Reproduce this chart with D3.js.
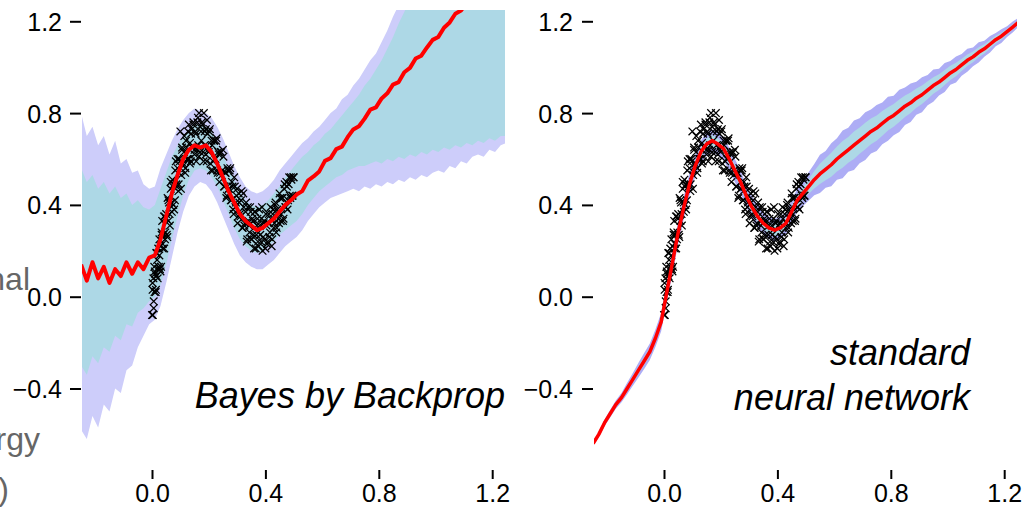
<!DOCTYPE html>
<meta charset="utf-8">
<style>
body { margin: 0; background: #fff; }
svg { display: block; font-family: "Liberation Sans", Arial, sans-serif; }
.axis path.domain { display: none; }
.axis .tick line { stroke: #000; stroke-width: 2px; }
.axis .tick text { font-size: 25px; fill: #000; }
.title { font-size: 36px; font-style: italic; fill: #000; }
.cut { font-size: 32px; fill: #666; }
.line { fill: none; stroke: #ff0000; stroke-linejoin: round; }
.obs { fill: none; stroke: #000; stroke-width: 1.25px; }
</style>
<svg width="1023" height="510"></svg>
<script src="https://d3js.org/d3.v7.min.js"></script>
<script>

// shared input grid
var xGrid = [-0.25,-0.23,-0.21,-0.19,-0.17,-0.15,-0.13,-0.11,-0.09,-0.07,-0.05,-0.03,-0.01,
  0.01,0.03,0.05,0.07,0.09,0.11,0.13,0.15,0.17,0.19,0.21,0.23,0.25,0.27,0.29,0.31,0.33,0.35,0.37,0.39,0.41,0.43,0.45,0.47,0.49,
  0.51,0.53,0.55,0.57,0.59,0.61,0.63,0.65,0.67,0.69,0.71,0.73,0.75,0.77,0.79,0.81,0.83,0.85,0.87,0.89,0.91,0.93,0.95,0.97,0.99,
  1.01,1.03,1.05,1.07,1.09,1.11,1.13,1.15,1.17,1.19,1.21,1.23,1.25];

// Bayes by Backprop: median and quantile bands
var bbbMean = [0.14,0.07,0.15,0.08,0.13,0.06,0.12,0.09,0.15,0.10,0.15,0.12,0.17,
  0.18,0.25,0.35,0.45,0.53,0.60,0.64,0.66,0.65,0.66,0.63,0.58,0.52,0.46,0.41,0.36,0.33,0.31,0.29,0.30,0.32,0.34,0.37,0.40,0.42,
  0.445,0.46,0.506,0.524,0.546,0.592,0.604,0.643,0.654,0.695,0.729,0.743,0.776,0.815,0.825,0.864,0.886,0.924,0.935,0.978,0.997,
  1.038,1.05,1.086,1.119,1.132,1.172,1.195,1.233,1.247,1.28,1.31,1.34,1.36,1.39,1.42,1.45,1.48];
var bbbOuterHi = [0.80,0.70,0.74,0.66,0.70,0.62,0.68,0.58,0.60,0.54,0.55,0.49,0.47,
  0.48,0.56,0.62,0.68,0.73,0.77,0.80,0.82,0.81,0.80,0.78,0.74,0.69,0.63,0.57,0.52,0.48,0.46,0.45,0.46,0.48,0.51,0.55,0.58,0.61,
  0.64,0.67,0.69,0.72,0.74,0.77,0.80,0.82,0.86,0.88,0.92,0.95,0.99,1.03,1.06,1.11,1.16,1.22,1.27,1.32,1.36,1.40,1.44,1.48,1.52,
  1.56,1.60,1.64,1.68,1.72,1.76,1.80,1.84,1.88,1.92,1.96,2.00,2.04];
var bbbInnerHi = [0.56,0.50,0.53,0.47,0.50,0.45,0.48,0.43,0.45,0.40,0.42,0.39,0.38,
  0.40,0.47,0.54,0.61,0.66,0.70,0.73,0.75,0.75,0.74,0.72,0.67,0.62,0.56,0.51,0.46,0.42,0.40,0.39,0.40,0.42,0.45,0.48,0.52,0.55,
  0.58,0.61,0.63,0.66,0.68,0.71,0.73,0.76,0.79,0.82,0.85,0.88,0.92,0.95,0.99,1.03,1.08,1.13,1.19,1.24,1.30,1.34,1.38,1.42,1.46,
  1.50,1.54,1.58,1.62,1.66,1.70,1.74,1.78,1.82,1.86,1.90,1.94,1.98];
var bbbInnerLo = [-0.30,-0.34,-0.26,-0.29,-0.22,-0.24,-0.17,-0.19,-0.12,-0.13,-0.07,-0.05,-0.02,
  0.00,0.05,0.14,0.25,0.35,0.44,0.51,0.55,0.56,0.55,0.52,0.48,0.42,0.36,0.30,0.25,0.22,0.20,0.19,0.20,0.22,0.24,0.27,0.29,0.31,
  0.33,0.36,0.40,0.43,0.46,0.48,0.50,0.52,0.53,0.55,0.56,0.57,0.57,0.58,0.59,0.58,0.60,0.59,0.61,0.60,0.62,0.61,0.63,0.62,0.64,
  0.63,0.65,0.64,0.66,0.65,0.67,0.66,0.68,0.67,0.69,0.68,0.70,0.70];
var bbbOuterLo = [-0.58,-0.62,-0.52,-0.57,-0.47,-0.50,-0.40,-0.42,-0.32,-0.30,-0.22,-0.17,-0.12,
  -0.10,-0.04,0.06,0.17,0.28,0.37,0.44,0.48,0.50,0.49,0.46,0.41,0.35,0.29,0.23,0.18,0.15,0.13,0.12,0.12,0.14,0.16,0.19,0.22,0.24,
  0.26,0.29,0.33,0.36,0.39,0.41,0.43,0.44,0.45,0.46,0.47,0.46,0.48,0.47,0.49,0.48,0.50,0.49,0.51,0.50,0.52,0.51,0.53,0.52,0.54,
  0.55,0.54,0.57,0.56,0.59,0.58,0.61,0.62,0.61,0.64,0.63,0.66,0.67];

// standard neural network: prediction and band half-widths
var nnMean = [-0.64,-0.60,-0.55,-0.51,-0.47,-0.44,-0.40,-0.36,-0.32,-0.28,-0.24,-0.18,-0.11,
  0.02,0.15,0.28,0.39,0.49,0.57,0.63,0.665,0.68,0.665,0.645,0.60,0.55,0.50,0.44,0.39,0.35,0.32,0.30,0.29,0.30,0.32,0.37,0.42,0.45,
  0.48,0.51,0.535,0.555,0.575,0.60,0.62,0.64,0.66,0.68,0.70,0.72,0.735,0.755,0.775,0.79,0.81,0.83,0.845,0.865,0.88,0.90,0.92,
  0.935,0.955,0.975,0.99,1.01,1.03,1.045,1.065,1.08,1.10,1.12,1.135,1.155,1.175,1.195];
var nnOuterW = [0.010,0.012,0.014,0.016,0.018,0.020,0.025,0.028,0.032,0.035,0.036,0.038,0.040,
  0.045,0.050,0.050,0.050,0.050,0.048,0.050,0.050,0.048,0.050,0.050,0.050,0.050,0.050,0.048,0.050,0.050,0.050,0.050,0.050,0.050,0.048,0.050,0.050,0.055,
  0.062,0.068,0.083,0.080,0.094,0.090,0.104,0.096,0.108,0.098,0.104,0.096,0.100,0.091,0.096,0.086,0.092,0.082,0.084,0.072,0.076,
  0.066,0.070,0.058,0.063,0.052,0.057,0.047,0.050,0.041,0.044,0.035,0.036,0.029,0.030,0.023,0.024,0.020];
var nnInnerW = [0.005,0.006,0.007,0.008,0.009,0.010,0.012,0.014,0.016,0.017,0.018,0.019,0.020,
  0.022,0.025,0.025,0.025,0.024,0.025,0.025,0.024,0.025,0.025,0.025,0.024,0.025,0.025,0.025,0.024,0.025,0.025,0.025,0.025,0.024,0.025,0.025,0.025,0.028,
  0.032,0.038,0.044,0.048,0.052,0.055,0.058,0.056,0.060,0.057,0.058,0.056,0.055,0.054,0.051,0.050,0.049,0.047,0.045,0.042,0.040,
  0.039,0.036,0.034,0.033,0.031,0.029,0.027,0.025,0.023,0.022,0.020,0.018,0.017,0.015,0.013,0.012,0.010];

// training observations [x, y]
var observations = [[0.000,-0.08],[0.002,0.03],[0.003,-0.08],[0.005,0.08],[0.006,-0.02],[0.008,0.13],[0.009,0.02],[0.011,0.10],
  [0.013,0.02],[0.015,0.19],[0.016,0.09],[0.018,0.16],[0.020,0.08],[0.022,0.21],[0.024,0.13],[0.026,0.25],[0.028,0.12],[0.030,0.22],
  [0.032,0.13],[0.034,0.27],[0.036,0.33],[0.038,0.21],[0.040,0.27],[0.043,0.21],[0.045,0.35],[0.047,0.28],[0.050,0.36],[0.052,0.27],
  [0.055,0.43],[0.058,0.33],[0.060,0.41],[0.063,0.31],[0.066,0.47],[0.069,0.41],[0.072,0.51],[0.075,0.40],[0.078,0.49],[0.081,0.42],
  [0.084,0.59],[0.087,0.48],[0.090,0.56],[0.093,0.46],[0.096,0.60],[0.100,0.72],[0.103,0.53],[0.106,0.64],[0.110,0.58],[0.113,0.63],
  [0.117,0.54],[0.120,0.68],[0.124,0.60],[0.127,0.72],[0.130,0.60],[0.134,0.67],[0.137,0.59],[0.140,0.73],[0.143,0.65],[0.146,0.76],
  [0.150,0.64],[0.153,0.72],[0.156,0.59],[0.160,0.76],[0.163,0.66],[0.166,0.80],[0.170,0.63],[0.173,0.72],[0.176,0.76],[0.180,0.63],
  [0.183,0.80],[0.186,0.66],[0.190,0.73],[0.193,0.59],[0.196,0.71],[0.200,0.63],[0.204,0.73],[0.208,0.55],[0.212,0.66],[0.216,0.59],
  [0.220,0.68],[0.224,0.60],[0.228,0.69],[0.232,0.54],[0.236,0.62],[0.240,0.54],[0.244,0.63],[0.248,0.55],[0.252,0.61],[0.256,0.48],
  [0.260,0.54],[0.264,0.44],[0.268,0.55],[0.272,0.47],[0.276,0.56],[0.280,0.42],[0.284,0.48],[0.288,0.36],[0.292,0.48],[0.296,0.41],
  [0.300,0.47],[0.304,0.35],[0.308,0.41],[0.312,0.35],[0.316,0.46],[0.320,0.30],[0.324,0.39],[0.328,0.32],[0.332,0.41],[0.336,0.25],
  [0.340,0.33],[0.344,0.28],[0.348,0.37],[0.352,0.25],[0.356,0.33],[0.360,0.21],[0.364,0.37],[0.368,0.27],[0.372,0.34],[0.376,0.22],
  [0.380,0.31],[0.384,0.24],[0.388,0.39],[0.392,0.26],[0.396,0.33],[0.400,0.21],[0.404,0.31],[0.408,0.24],[0.412,0.36],[0.416,0.28],
  [0.420,0.34],[0.424,0.25],[0.428,0.38],[0.432,0.32],[0.436,0.41],[0.440,0.30],[0.444,0.37],[0.448,0.32],[0.452,0.43],[0.456,0.36],
  [0.460,0.43],[0.464,0.34],[0.468,0.49],[0.472,0.39],[0.476,0.48],[0.480,0.42],[0.484,0.52],[0.488,0.43],[0.492,0.51],[0.496,0.44],
  [0.500,0.52],
  [0.002,0.06],[0.006,-0.05],[0.010,0.11],[0.014,0.03],[0.018,0.19],[0.022,0.12],[0.026,0.18],[0.030,0.11],[0.034,0.28],[0.038,0.23],
  [0.042,0.35],[0.046,0.25],[0.050,0.34],[0.054,0.26],[0.058,0.42],[0.062,0.36],[0.066,0.50],[0.070,0.37],[0.074,0.48],[0.078,0.38],
  [0.082,0.55],[0.086,0.49],[0.090,0.60],[0.094,0.49],[0.098,0.59],[0.102,0.47],[0.106,0.65],[0.110,0.57],[0.114,0.70],[0.118,0.56],
  [0.122,0.65],[0.126,0.60],[0.130,0.75],[0.134,0.58],[0.138,0.71],[0.142,0.65],[0.146,0.75],[0.150,0.62],[0.154,0.71],[0.158,0.64],
  [0.162,0.78],[0.166,0.61],[0.170,0.74],[0.174,0.68],[0.178,0.75],[0.182,0.59],[0.186,0.72],[0.190,0.62],[0.194,0.77],[0.198,0.64],
  [0.202,0.72],[0.206,0.58],[0.210,0.68],[0.214,0.55],[0.218,0.68],[0.222,0.60],[0.226,0.68],[0.230,0.55],[0.234,0.63],[0.238,0.50],
  [0.242,0.63],[0.246,0.53],[0.250,0.64],[0.254,0.48],[0.258,0.54],[0.262,0.43],[0.266,0.56],[0.270,0.47],[0.274,0.55],[0.278,0.42],
  [0.282,0.50],[0.286,0.38],[0.290,0.52],[0.294,0.39],[0.298,0.44],[0.302,0.32],[0.306,0.45],[0.310,0.36],[0.314,0.42],[0.318,0.30],
  [0.322,0.45],[0.326,0.31],[0.330,0.37],[0.334,0.24],[0.338,0.39],[0.342,0.31],[0.346,0.39],[0.350,0.25],[0.354,0.34],[0.358,0.27],
  [0.362,0.37],[0.366,0.21],[0.370,0.31],[0.374,0.24],[0.378,0.38],[0.382,0.27],[0.386,0.34],[0.390,0.20],[0.394,0.32],[0.398,0.25],
  [0.402,0.36],[0.406,0.23],[0.410,0.32],[0.414,0.26],[0.418,0.39],[0.422,0.22],[0.426,0.36],[0.430,0.30],[0.434,0.40],[0.438,0.28],
  [0.442,0.38],[0.446,0.34],[0.450,0.45],[0.454,0.33],[0.458,0.43],[0.462,0.33],[0.466,0.47],[0.470,0.39],[0.474,0.50],[0.478,0.38],
  [0.482,0.49],[0.486,0.44],[0.490,0.52],[0.494,0.44],[0.498,0.52]];

var yTicks = [-0.4, 0.0, 0.4, 0.8, 1.2],
    xTicks = [0.0, 0.4, 0.8, 1.2];

var svg = d3.select("svg");
var fmt = d3.format(".1f");

var y = d3.scaleLinear().domain([0, 1.2]).range([296.7, 21.3]);

function drawPanel(p) {
  var x = d3.scaleLinear().domain([0, 1.2]).range([p.x0, p.x0 + 340.2]);

  svg.append("clipPath").attr("id", p.id)
    .append("rect")
      .attr("x", x(-0.247)).attr("y", 10)
      .attr("width", x(1.245) - x(-0.247)).attr("height", 500);

  var g = svg.append("g").attr("clip-path", "url(#" + p.id + ")");

  var area = function(lo, hi) {
    return d3.area()
      .x(function(d, i) { return x(xGrid[i]); })
      .y0(function(d, i) { return y(lo[i]); })
      .y1(function(d, i) { return y(hi[i]); })(xGrid);
  };

  g.append("path").attr("d", area(p.outerLo, p.outerHi)).attr("fill", p.outerColor);
  g.append("path").attr("d", area(p.innerLo, p.innerHi)).attr("fill", "#add8e6");

  g.selectAll(".obs")
    .data(observations)
    .enter().append("path")
      .attr("class", "obs")
      .attr("transform", function(d) { return "translate(" + x(d[0]) + "," + y(d[1]) + ")"; })
      .attr("d", "M-3.8,-3.8L3.8,3.8M-3.8,3.8L3.8,-3.8");

  g.append("path")
    .attr("class", "line")
    .attr("stroke-width", p.lineWidth)
    .attr("d", d3.line()
      .x(function(d, i) { return x(xGrid[i]); })
      .y(function(d) { return y(d); })(p.mean));

  // y axis: detached short ticks
  svg.append("g")
      .attr("class", "axis")
      .attr("transform", "translate(" + p.yAxisX + ",0)")
      .call(d3.axisLeft(y).tickValues(yTicks).tickSize(11).tickPadding(p.yPad).tickFormat(fmt))
      .selectAll("text").attr("dy", "0.36em");

  svg.append("g")
      .attr("class", "axis")
      .attr("transform", "translate(0,470)")
      .call(d3.axisBottom(x).tickValues(xTicks).tickSize(9).tickPadding(5).tickFormat(fmt));

  p.title.forEach(function(t, i) {
    svg.append("text")
      .attr("class", "title")
      .attr("x", p.titleX)
      .attr("y", p.titleY + i * 45)
      .attr("text-anchor", "end")
      .text(t);
  });
}

drawPanel({
  id: "clipL", x0: 152, yAxisX: 81, yPad: 8,
  mean: bbbMean, innerLo: bbbInnerLo, innerHi: bbbInnerHi,
  outerLo: bbbOuterLo, outerHi: bbbOuterHi,
  outerColor: "#cdcdfa", lineWidth: 4,
  title: ["Bayes by Backprop"], titleX: 505, titleY: 408
});

drawPanel({
  id: "clipR", x0: 664, yAxisX: 593, yPad: 9,
  mean: nnMean,
  innerLo: nnMean.map(function(m, i) { return m - nnInnerW[i]; }),
  innerHi: nnMean.map(function(m, i) { return m + nnInnerW[i]; }),
  outerLo: nnMean.map(function(m, i) { return m - nnOuterW[i]; }),
  outerHi: nnMean.map(function(m, i) { return m + nnOuterW[i]; }),
  outerColor: "#adadf5", lineWidth: 3.5,
  title: ["standard", "neural network"], titleX: 970, titleY: 365
});

// fragments of the neighbouring figure's label, cut at the left edge
svg.append("text").attr("class", "cut").attr("x", 30).attr("y", 290).attr("text-anchor", "end").text("nal");
svg.append("text").attr("class", "cut").attr("x", 40).attr("y", 450).attr("text-anchor", "end").text("rgy");
svg.append("text").attr("class", "cut").attr("x", 9).attr("y", 500).attr("text-anchor", "end").text(")");

</script>
